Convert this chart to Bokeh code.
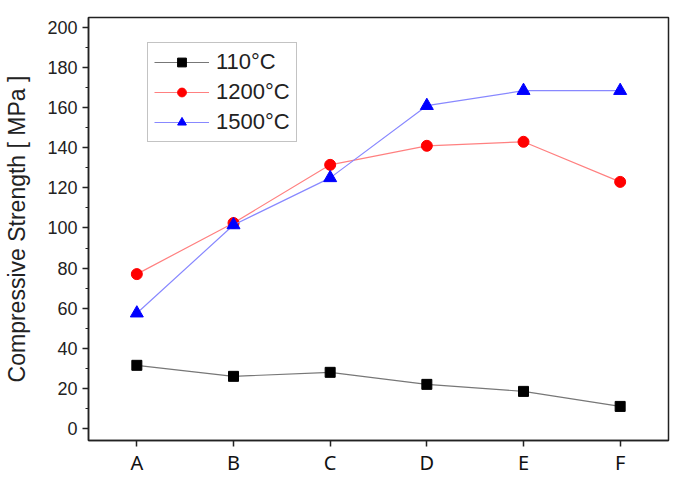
from bokeh.plotting import figure
from bokeh.models import Legend, LegendItem, SingleIntervalTicker, Range1d, FactorRange
from bokeh.embed import file_html
from bokeh.resources import INLINE

categories = ["A", "B", "C", "D", "E", "F"]
s110 = [31.5, 26, 28, 22, 18.5, 11]
s1200 = [77, 102.5, 131.5, 141, 143, 123]
s1500 = [57.5, 101.5, 125, 161, 168.5, 168.5]
series_labels = ["110\u00b0C", "1200\u00b0C", "1500\u00b0C"]

FONT = "Liberation Sans"

p = figure(x_range=FactorRange(*categories), y_range=Range1d(-6, 205),
           frame_width=580, frame_height=423,
           min_border_left=88, min_border_top=17, min_border_right=17, min_border_bottom=30,
           output_backend="svg", toolbar_location=None)

p.grid.visible = False
p.outline_line_color = "#222222"
p.outline_line_width = 1.5
p.background_fill_color = "white"
p.border_fill_color = "white"

# y axis
p.yaxis.ticker = SingleIntervalTicker(interval=20, num_minor_ticks=2)
p.yaxis.axis_label = "Compressive Strength [ MPa ]"
p.yaxis.axis_label_text_font = FONT
p.yaxis.axis_label_text_font_size = "23px"
p.yaxis.axis_label_text_font_style = "normal"
p.yaxis.axis_label_text_color = "#222222"
p.yaxis.axis_label_standoff = 14
p.yaxis.major_label_text_font = FONT
p.yaxis.major_label_text_font_size = "18px"
p.yaxis.major_label_text_color = "#222222"
p.yaxis.major_label_standoff = 5
p.yaxis.major_tick_out = 6
p.yaxis.major_tick_in = 0
p.yaxis.minor_tick_out = 3
p.yaxis.minor_tick_in = 0

# x axis
p.xaxis.major_label_text_font = "Noto Sans"
p.xaxis.major_label_text_font_size = "20px"
p.xaxis.major_label_text_color = "#111111"
p.xaxis.major_label_standoff = 2
p.xaxis.major_tick_out = 6
p.xaxis.major_tick_in = 0

for ax in [p.xaxis[0], p.yaxis[0]]:
    ax.axis_line_color = "#222222"
    ax.axis_line_width = 1.5
    ax.major_tick_line_color = "#222222"
    ax.major_tick_line_width = 1.5
    ax.minor_tick_line_color = "#222222"
    ax.minor_tick_line_width = 1.2

l1 = p.line(categories, s110, line_color="#777777", line_width=1.2)
m1 = p.scatter(categories, s110, marker="square", size=10, fill_color="black", line_color="black")
l2 = p.line(categories, s1200, line_color="#ff8080", line_width=1.2)
m2 = p.scatter(categories, s1200, marker="circle", size=11, fill_color="red", line_color="red")
l3 = p.line(categories, s1500, line_color="#8888ff", line_width=1.2)
m3 = p.scatter(categories, s1500, marker="triangle", size=13, fill_color="blue", line_color="blue")

legend = Legend(items=[
    LegendItem(label=series_labels[0], renderers=[l1, m1]),
    LegendItem(label=series_labels[1], renderers=[l2, m2]),
    LegendItem(label=series_labels[2], renderers=[l3, m3]),
], location=(59, 423 - 24 - 101))
legend.label_text_font = FONT
legend.label_text_font_size = "22px"
legend.label_text_color = "#222222"
legend.glyph_width = 55
legend.glyph_height = 22
legend.label_height = 22
legend.label_standoff = 7
legend.spacing = 4
legend.padding = 6
legend.margin = 0
legend.border_line_color = "#888888"
legend.border_line_width = 1.5
legend.background_fill_alpha = 1
p.add_layout(legend, "center")

open("out.html", "w").write(file_html(p, INLINE))
